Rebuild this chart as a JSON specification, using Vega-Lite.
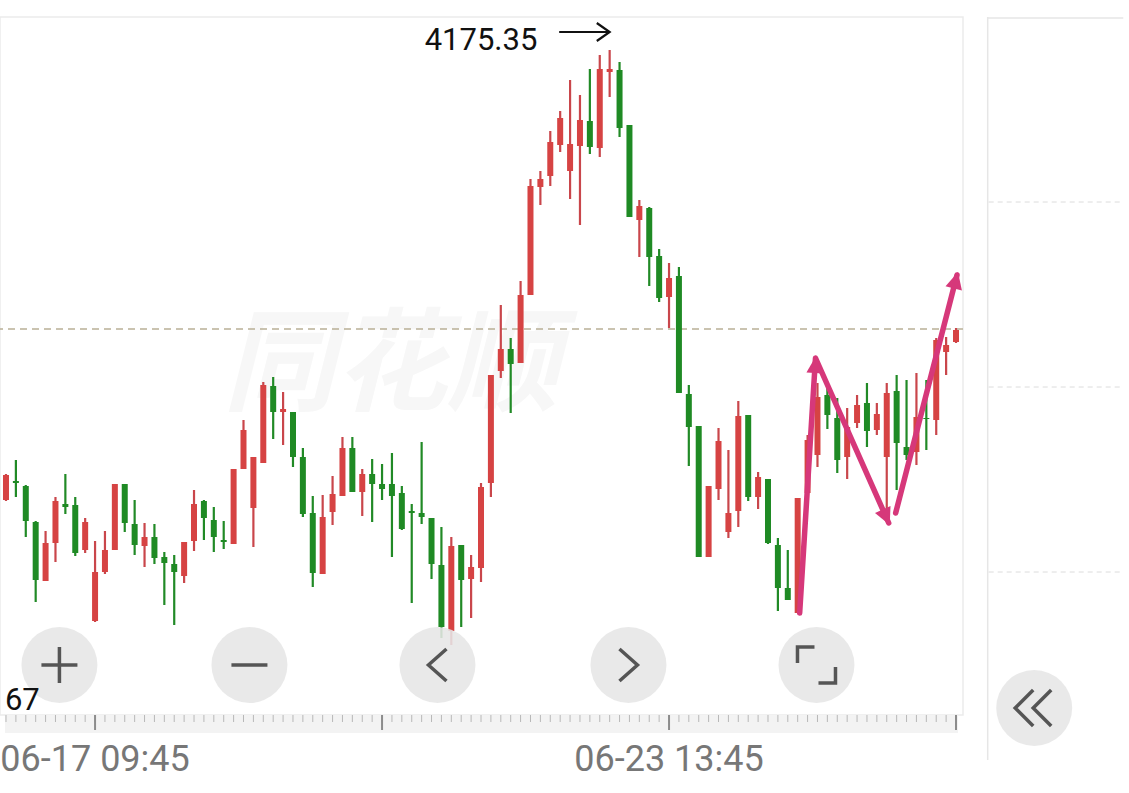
{
  "$schema": "https://vega.github.io/schema/vega-lite/v6.json",
  "autosize": {"type": "none"},
  "width": 963,
  "height": 698,
  "padding": {"left": 0, "top": 17, "right": 166, "bottom": 78},
  "background": "#ffffff",
  "config": {"view": {"stroke": "#ebebeb", "strokeWidth": 1.5}, "font": "Roboto"},
  "datasets": {
    "candles": [
      {"i":0,"o":4130.35,"h":4132.95,"l":4130.25,"c":4132.85},
      {"i":1,"o":4132.25,"h":4134.35,"l":4130.65,"c":4132.05},
      {"i":2,"o":4131.75,"h":4131.85,"l":4126.65,"c":4128.25},
      {"i":3,"o":4128.15,"h":4128.25,"l":4120.15,"c":4122.35},
      {"i":4,"o":4122.25,"h":4127.25,"l":4122.25,"c":4126.05},
      {"i":5,"o":4126.05,"h":4130.65,"l":4124.15,"c":4130.25},
      {"i":6,"o":4129.95,"h":4132.95,"l":4128.95,"c":4129.65},
      {"i":7,"o":4129.85,"h":4130.65,"l":4124.75,"c":4125.05},
      {"i":8,"o":4125.35,"h":4128.55,"l":4125.05,"c":4128.15},
      {"i":9,"o":4118.25,"h":4126.25,"l":4118.15,"c":4123.15},
      {"i":10,"o":4123.15,"h":4127.25,"l":4122.95,"c":4125.35},
      {"i":11,"o":4125.35,"h":4131.95,"l":4125.35,"c":4131.95},
      {"i":12,"o":4131.95,"h":4131.95,"l":4127.15,"c":4128.05},
      {"i":13,"o":4127.95,"h":4130.35,"l":4124.85,"c":4125.85},
      {"i":14,"o":4125.75,"h":4128.05,"l":4123.65,"c":4126.65},
      {"i":15,"o":4126.65,"h":4127.95,"l":4123.95,"c":4124.55},
      {"i":16,"o":4124.65,"h":4125.15,"l":4119.85,"c":4124.05},
      {"i":17,"o":4123.95,"h":4124.85,"l":4117.85,"c":4123.15},
      {"i":18,"o":4122.75,"h":4126.15,"l":4122.05,"c":4126.15},
      {"i":19,"o":4126.25,"h":4131.35,"l":4125.25,"c":4129.95},
      {"i":20,"o":4130.25,"h":4130.35,"l":4126.35,"c":4128.55},
      {"i":21,"o":4128.35,"h":4129.65,"l":4125.15,"c":4126.65},
      {"i":22,"o":4126.35,"h":4128.25,"l":4125.45,"c":4126.15},
      {"i":23,"o":4125.95,"h":4133.45,"l":4125.95,"c":4133.45},
      {"i":24,"o":4133.45,"h":4138.35,"l":4133.45,"c":4137.35},
      {"i":25,"o":4129.55,"h":4134.65,"l":4125.65,"c":4134.65},
      {"i":26,"o":4134.05,"h":4142.15,"l":4134.05,"c":4141.85},
      {"i":27,"o":4141.75,"h":4142.65,"l":4136.45,"c":4139.15},
      {"i":28,"o":4139.15,"h":4141.15,"l":4135.85,"c":4139.45},
      {"i":29,"o":4139.15,"h":4139.15,"l":4133.65,"c":4134.65},
      {"i":30,"o":4134.65,"h":4135.55,"l":4128.65,"c":4128.95},
      {"i":31,"o":4129.05,"h":4130.75,"l":4121.65,"c":4123.05},
      {"i":32,"o":4122.95,"h":4130.85,"l":4122.95,"c":4128.65},
      {"i":33,"o":4129.15,"h":4132.75,"l":4127.85,"c":4130.95},
      {"i":34,"o":4130.75,"h":4136.65,"l":4130.75,"c":4135.55},
      {"i":35,"o":4135.55,"h":4136.65,"l":4131.15,"c":4131.15},
      {"i":36,"o":4131.15,"h":4133.45,"l":4128.75,"c":4132.95},
      {"i":37,"o":4132.95,"h":4134.45,"l":4128.15,"c":4131.95},
      {"i":38,"o":4131.95,"h":4133.95,"l":4130.35,"c":4131.45},
      {"i":39,"o":4131.95,"h":4135.05,"l":4124.65,"c":4130.75},
      {"i":40,"o":4131.05,"h":4131.75,"l":4127.35,"c":4127.45},
      {"i":41,"o":4129.25,"h":4129.95,"l":4120.05,"c":4129.05},
      {"i":42,"o":4129.05,"h":4136.15,"l":4127.95,"c":4128.65},
      {"i":43,"o":4128.55,"h":4128.55,"l":4122.45,"c":4123.95},
      {"i":44,"o":4123.85,"h":4127.65,"l":4116.55,"c":4117.65},
      {"i":45,"o":4117.25,"h":4126.65,"l":4115.85,"c":4125.75},
      {"i":46,"o":4125.85,"h":4125.85,"l":4117.65,"c":4122.35},
      {"i":47,"o":4122.45,"h":4124.85,"l":4118.55,"c":4123.65},
      {"i":48,"o":4123.55,"h":4132.05,"l":4122.15,"c":4131.65},
      {"i":49,"o":4132.05,"h":4142.85,"l":4130.65,"c":4142.85},
      {"i":50,"o":4143.25,"h":4149.85,"l":4142.55,"c":4145.45},
      {"i":51,"o":4145.45,"h":4146.55,"l":4139.05,"c":4143.95},
      {"i":52,"o":4144.05,"h":4152.25,"l":4144.05,"c":4150.85},
      {"i":53,"o":4150.85,"h":4162.45,"l":4150.85,"c":4161.75},
      {"i":54,"o":4161.65,"h":4163.25,"l":4159.85,"c":4162.45},
      {"i":55,"o":4162.75,"h":4167.25,"l":4161.75,"c":4166.15},
      {"i":56,"o":4165.85,"h":4169.25,"l":4165.15,"c":4168.55},
      {"i":57,"o":4163.25,"h":4172.35,"l":4160.45,"c":4165.95},
      {"i":58,"o":4165.75,"h":4170.85,"l":4157.85,"c":4168.35},
      {"i":59,"o":4168.25,"h":4173.45,"l":4164.95,"c":4165.65},
      {"i":60,"o":4165.55,"h":4174.85,"l":4164.65,"c":4173.45},
      {"i":61,"o":4173.15,"h":4175.35,"l":4170.65,"c":4173.45},
      {"i":62,"o":4173.35,"h":4174.15,"l":4166.65,"c":4167.55},
      {"i":63,"o":4167.85,"h":4167.85,"l":4158.65,"c":4158.65},
      {"i":64,"o":4158.35,"h":4160.35,"l":4154.65,"c":4159.75},
      {"i":65,"o":4159.55,"h":4159.65,"l":4151.75,"c":4154.65},
      {"i":66,"o":4154.75,"h":4155.45,"l":4150.15,"c":4150.55},
      {"i":67,"o":4150.65,"h":4154.05,"l":4147.55,"c":4152.55},
      {"i":68,"o":4152.75,"h":4153.65,"l":4141.05,"c":4141.05},
      {"i":69,"o":4140.95,"h":4141.85,"l":4133.75,"c":4137.65},
      {"i":70,"o":4137.75,"h":4137.75,"l":4124.65,"c":4124.65},
      {"i":71,"o":4124.65,"h":4131.75,"l":4124.65,"c":4131.75},
      {"i":72,"o":4131.45,"h":4137.55,"l":4130.35,"c":4136.25},
      {"i":73,"o":4127.15,"h":4135.35,"l":4126.55,"c":4129.05},
      {"i":74,"o":4129.25,"h":4140.25,"l":4127.65,"c":4138.75},
      {"i":75,"o":4138.85,"h":4138.85,"l":4130.25,"c":4130.65},
      {"i":76,"o":4130.65,"h":4133.15,"l":4129.45,"c":4132.65},
      {"i":77,"o":4132.45,"h":4132.45,"l":4125.95,"c":4126.05},
      {"i":78,"o":4125.85,"h":4126.55,"l":4119.25,"c":4121.55},
      {"i":79,"o":4121.55,"h":4125.35,"l":4120.35,"c":4120.35},
      {"i":80,"o":4119.05,"h":4130.55,"l":4119.05,"c":4130.55},
      {"i":81,"o":4131.05,"h":4136.85,"l":4131.05,"c":4136.35},
      {"i":82,"o":4134.85,"h":4142.05,"l":4133.65,"c":4140.65},
      {"i":83,"o":4140.85,"h":4141.55,"l":4137.45,"c":4138.85},
      {"i":84,"o":4138.55,"h":4140.55,"l":4133.05,"c":4134.35},
      {"i":85,"o":4134.65,"h":4139.55,"l":4132.45,"c":4137.65},
      {"i":86,"o":4138.05,"h":4140.85,"l":4137.55,"c":4139.85},
      {"i":87,"o":4140.05,"h":4142.05,"l":4135.65,"c":4137.25},
      {"i":88,"o":4137.35,"h":4140.05,"l":4136.85,"c":4138.95},
      {"i":89,"o":4134.65,"h":4142.05,"l":4129.05,"c":4141.05},
      {"i":90,"o":4141.25,"h":4142.85,"l":4131.35,"c":4136.05},
      {"i":91,"o":4135.65,"h":4142.35,"l":4134.35,"c":4134.85},
      {"i":92,"o":4135.15,"h":4143.05,"l":4133.85,"c":4138.65},
      {"i":93,"o":4138.55,"h":4142.35,"l":4135.35,"c":4138.45},
      {"i":94,"o":4138.35,"h":4146.55,"l":4136.85,"c":4146.35},
      {"i":95,"o":4145.15,"h":4146.65,"l":4142.85,"c":4145.85},
      {"i":96,"o":4146.15,"h":4147.55,"l":4146.05,"c":4147.35}
    ],
    "ticks": [{"i":0},{"i":1},{"i":2},{"i":3},{"i":4},{"i":5},{"i":6},{"i":7},{"i":8},{"i":9},{"i":10},{"i":11},{"i":12},{"i":13},{"i":14},{"i":15},{"i":16},{"i":17},{"i":18},{"i":19},{"i":20},{"i":21},{"i":22},{"i":23},{"i":24},{"i":25},{"i":26},{"i":27},{"i":28},{"i":29},{"i":30},{"i":31},{"i":32},{"i":33},{"i":34},{"i":35},{"i":36},{"i":37},{"i":38},{"i":39},{"i":40},{"i":41},{"i":42},{"i":43},{"i":44},{"i":45},{"i":46},{"i":47},{"i":48},{"i":49},{"i":50},{"i":51},{"i":52},{"i":53},{"i":54},{"i":55},{"i":56},{"i":57},{"i":58},{"i":59},{"i":60},{"i":61},{"i":62},{"i":63},{"i":64},{"i":65},{"i":66},{"i":67},{"i":68},{"i":69},{"i":70},{"i":71},{"i":72},{"i":73},{"i":74},{"i":75},{"i":76},{"i":77},{"i":78},{"i":79},{"i":80},{"i":81},{"i":82},{"i":83},{"i":84},{"i":85},{"i":86},{"i":87},{"i":88},{"i":89},{"i":90},{"i":91},{"i":92},{"i":93},{"i":94},{"i":95},{"i":96}],
    "major": [{"i":9},{"i":38},{"i":67},{"i":96}],
    "timelabels": [{"i":9,"t":"06-17 09:45"},{"i":67,"t":"06-23 13:45"}],
    "wm": [{"i":38.9,"p":4143.55,"t":"同花顺"}],
    "pink": [
      {"s":"a","k":0,"i":80.2,"p":4119.05},
      {"s":"a","k":1,"i":81.8,"p":4144.55},
      {"s":"a","k":2,"i":89.2,"p":4128.05},
      {"s":"b","k":0,"i":89.9,"p":4129.05},
      {"s":"b","k":1,"i":96.1,"p":4152.85}
    ],
    "heads": [
      {"i":81.85,"p":4144.75,"a":3.6},
      {"i":89.3,"p":4127.85,"a":155.8},
      {"i":96.2,"p":4153.15,"a":14.6}
    ],
    "blk": [
      {"s":"shaft","k":0,"i":55.9,"p":4177.15},
      {"s":"shaft","k":1,"i":61.0,"p":4177.15},
      {"s":"head","k":0,"i":59.7,"p":4178.05},
      {"s":"head","k":1,"i":61.0,"p":4177.15},
      {"s":"head","k":2,"i":59.7,"p":4176.25}
    ],
    "buttons": [
      {"g":"plus","i":5.4,"p":4113.85},
      {"g":"minus","i":24.6,"p":4113.85},
      {"g":"left","i":43.6,"p":4113.85},
      {"g":"right","i":62.9,"p":4113.85},
      {"g":"expand","i":81.9,"p":4113.85},
      {"g":"dbl","i":103.9,"p":4109.55}
    ],
    "labels": [
      {"t":"4175.35","i":48.0,"p":4175.35},
      {"t":"67","i":1.65,"p":4109.35}
    ],
    "panel": [
      {"x1":99.2,"x2":99.2,"y1":4178.65,"y2":4104.35},
      {"x1":99.2,"x2":112.9,"y1":4178.55,"y2":4178.55}
    ],
    "pgrid": [{"p":4160.15},{"p":4141.65},{"p":4123.15}],
    "ref": [{"p":4147.45}],
    "strip": [{"a":-0.1,"b":96.2}]
  },
  "layer": [
    {
      "data": {"name": "wm"},
      "mark": {"type":"text","font":"Noto Sans CJK SC","fontSize":112,"fontWeight":"bold","fontStyle":"italic","color":"#f7f7f7","align":"center","baseline":"middle"},
      "encoding": {
        "x": {"field":"i","type":"quantitative","scale":{"domain":[-0.1,96.2],"nice":false,"zero":false},"axis":null},
        "y": {"field":"p","type":"quantitative","scale":{"domain":[4108.85,4178.65],"nice":false,"zero":false},
          "axis": {"values":[4126.35,4143.85,4161.35],"title":null,"labels":false,"ticks":false,"domain":false,"grid":true,"gridColor":"#dcdcdc","gridDash":[5,4],"gridWidth":1}},
        "text": {"field":"t"}
      }
    },
    {
      "data": {"name": "strip"},
      "mark": {"type":"rect","color":"#f3f3f3"},
      "encoding": {
        "x": {"field":"a","type":"quantitative","scale":{"domain":[-0.1,96.2],"nice":false,"zero":false},"axis":null},
        "x2": {"field":"b"},
        "y": {"datum":4108.85,"type":"quantitative","scale":{"domain":[4108.85,4178.65],"nice":false,"zero":false},"axis":null},
        "y2": {"datum":4107.05}
      }
    },
    {
      "data": {"name": "ref"},
      "mark": {"type":"rule","color":"#b9b096","strokeWidth":1.5,"strokeDash":[7,5]},
      "encoding": {
        "y": {"field":"p","type":"quantitative","scale":{"domain":[4108.85,4178.65],"nice":false,"zero":false},"axis":null}
      }
    },
    {
      "data": {"name": "candles"},
      "mark": {"type":"rule","strokeWidth":2.2},
      "encoding": {
        "x": {"field":"i","type":"quantitative","scale":{"domain":[-0.1,96.2],"nice":false,"zero":false},"axis":null},
        "y": {"field":"l","type":"quantitative","scale":{"domain":[4108.85,4178.65],"nice":false,"zero":false},"axis":null},
        "y2": {"field":"h"},
        "color": {"condition":{"test":"datum.c >= datum.o","value":"#c9464b"},"value":"#218a26"}
      }
    },
    {
      "data": {"name": "candles"},
      "mark": {"type":"bar","size":6},
      "encoding": {
        "x": {"field":"i","type":"quantitative","scale":{"domain":[-0.1,96.2],"nice":false,"zero":false},"axis":null},
        "y": {"field":"o","type":"quantitative","scale":{"domain":[4108.85,4178.65],"nice":false,"zero":false},"axis":null},
        "y2": {"field":"c"},
        "color": {"condition":{"test":"datum.c >= datum.o","value":"#d64343"},"value":"#1f8a24"}
      }
    },
    {
      "data": {"name": "ticks"},
      "mark": {"type":"rule","color":"#b8b8b8","strokeWidth":1},
      "encoding": {
        "x": {"field":"i","type":"quantitative","scale":{"domain":[-0.1,96.2],"nice":false,"zero":false},"axis":null},
        "y": {"datum":4108.85,"type":"quantitative","scale":{"domain":[4108.85,4178.65],"nice":false,"zero":false},"axis":null},
        "y2": {"datum":4108.15}
      }
    },
    {
      "data": {"name": "major"},
      "mark": {"type":"rule","color":"#8c8c8c","strokeWidth":2},
      "encoding": {
        "x": {"field":"i","type":"quantitative","scale":{"domain":[-0.1,96.2],"nice":false,"zero":false},"axis":null},
        "y": {"datum":4108.85,"type":"quantitative","scale":{"domain":[4108.85,4178.65],"nice":false,"zero":false},"axis":null},
        "y2": {"datum":4107.35}
      }
    },
    {
      "data": {"name": "timelabels"},
      "mark": {"type":"text","font":"Roboto","fontSize":36,"color":"#777777","align":"center","baseline":"alphabetic"},
      "encoding": {
        "x": {"field":"i","type":"quantitative","scale":{"domain":[-0.1,96.2],"nice":false,"zero":false},"axis":null},
        "y": {"datum":4103.25,"type":"quantitative","scale":{"domain":[4108.85,4178.65],"nice":false,"zero":false},"axis":null},
        "text": {"field":"t"}
      }
    },
    {
      "data": {"name": "blk"},
      "mark": {"type":"line","color":"#111111","strokeWidth":2.2},
      "encoding": {
        "x": {"field":"i","type":"quantitative","scale":{"domain":[-0.1,96.2],"nice":false,"zero":false},"axis":null},
        "y": {"field":"p","type":"quantitative","scale":{"domain":[4108.85,4178.65],"nice":false,"zero":false},"axis":null},
        "detail": {"field":"s"},
        "order": {"field":"k"}
      }
    },
    {
      "data": {"name": "pink"},
      "mark": {"type":"line","color":"#d6387a","strokeWidth":5.5,"strokeCap":"round","strokeJoin":"round"},
      "encoding": {
        "x": {"field":"i","type":"quantitative","scale":{"domain":[-0.1,96.2],"nice":false,"zero":false},"axis":null},
        "y": {"field":"p","type":"quantitative","scale":{"domain":[4108.85,4178.65],"nice":false,"zero":false},"axis":null},
        "detail": {"field":"s"},
        "order": {"field":"k"}
      }
    },
    {
      "data": {"name": "heads"},
      "mark": {"type":"point","filled":true,"opacity":1,"size":800,"color":"#d6387a","shape":"M0,0L-0.6,1.2L0.6,1.2Z"},
      "encoding": {
        "x": {"field":"i","type":"quantitative","scale":{"domain":[-0.1,96.2],"nice":false,"zero":false},"axis":null},
        "y": {"field":"p","type":"quantitative","scale":{"domain":[4108.85,4178.65],"nice":false,"zero":false},"axis":null},
        "angle": {"field":"a","type":"quantitative","scale":null}
      }
    },
    {
      "data": {"name": "buttons"},
      "mark": {"type":"point","shape":"circle","filled":true,"opacity":0.88,"size":5776,"color":"#e6e6e6","strokeWidth":0},
      "encoding": {
        "x": {"field":"i","type":"quantitative","scale":{"domain":[-0.1,96.2],"nice":false,"zero":false},"axis":null},
        "y": {"field":"p","type":"quantitative","scale":{"domain":[4108.85,4178.65],"nice":false,"zero":false},"axis":null}
      }
    },
    {
      "data": {"name": "buttons"},
      "mark": {"type":"point","filled":false,"opacity":1,"size":1600,"color":"#555555","strokeWidth":3.5,"strokeCap":"butt"},
      "encoding": {
        "x": {"field":"i","type":"quantitative","scale":{"domain":[-0.1,96.2],"nice":false,"zero":false},"axis":null},
        "y": {"field":"p","type":"quantitative","scale":{"domain":[4108.85,4178.65],"nice":false,"zero":false},"axis":null},
        "shape": {"field":"g","type":"nominal","legend":null,
          "scale":{"domain":["plus","minus","left","right","expand","dbl"],
            "range":["M-0.9,0L0.9,0M0,-0.9L0,0.9","M-0.9,0L0.9,0","M0.45,-0.8L-0.45,0L0.45,0.8","M-0.45,-0.8L0.45,0L-0.45,0.8","M-0.95,-0.1L-0.95,-0.9L-0.1,-0.9M0.95,0.1L0.95,0.9L0.1,0.9","M-0.05,-0.9L-0.95,0L-0.05,0.9M0.85,-0.9L-0.05,0L0.85,0.9"]}}
      }
    },
    {
      "data": {"name": "labels"},
      "mark": {"type":"text","font":"Roboto","fontSize":31,"color":"#111111","align":"center","baseline":"alphabetic"},
      "encoding": {
        "x": {"field":"i","type":"quantitative","scale":{"domain":[-0.1,96.2],"nice":false,"zero":false},"axis":null},
        "y": {"field":"p","type":"quantitative","scale":{"domain":[4108.85,4178.65],"nice":false,"zero":false},"axis":null},
        "text": {"field":"t"}
      }
    },
    {
      "data": {"name": "panel"},
      "mark": {"type":"rule","color":"#e6e6e6","strokeWidth":1.5},
      "encoding": {
        "x": {"field":"x1","type":"quantitative","scale":{"domain":[-0.1,96.2],"nice":false,"zero":false},"axis":null},
        "x2": {"field":"x2"},
        "y": {"field":"y1","type":"quantitative","scale":{"domain":[4108.85,4178.65],"nice":false,"zero":false},"axis":null},
        "y2": {"field":"y2"}
      }
    },
    {
      "data": {"name": "pgrid"},
      "mark": {"type":"rule","color":"#dcdcdc","strokeWidth":1,"strokeDash":[5,4]},
      "encoding": {
        "x": {"datum":99.3,"type":"quantitative","scale":{"domain":[-0.1,96.2],"nice":false,"zero":false},"axis":null},
        "x2": {"datum":112.9},
        "y": {"field":"p","type":"quantitative","scale":{"domain":[4108.85,4178.65],"nice":false,"zero":false},"axis":null}
      }
    }
  ]
}
